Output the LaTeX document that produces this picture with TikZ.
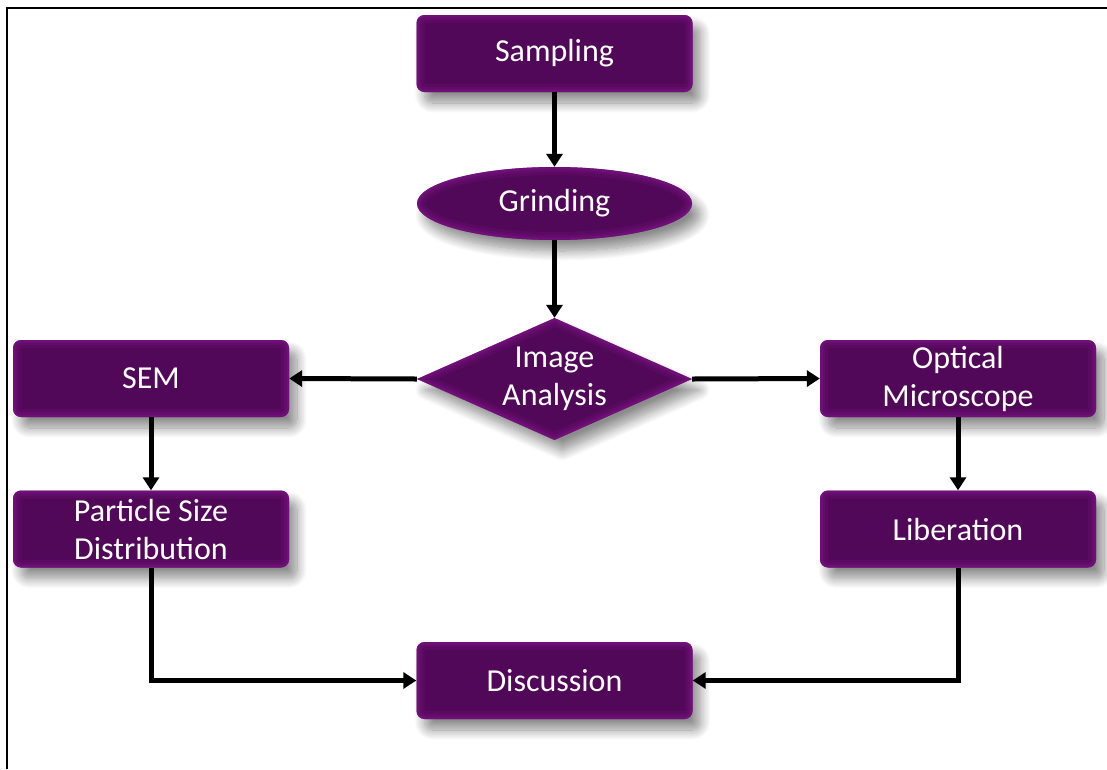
\documentclass[tikz,border=0pt]{standalone}
\usepackage{fontspec}
\setmainfont{Carlito}
\usetikzlibrary{shapes.geometric,arrows.meta,shadows.blur}
\definecolor{plumdark}{RGB}{82,8,88}
\definecolor{plumlight}{RGB}{128,20,138}
\tikzset{
  base/.style={fill=plumdark, text=white, align=center,
    font=\fontsize{32}{38}\selectfont, inner sep=0pt,
    blur shadow={shadow xshift=8pt, shadow yshift=-11pt,
      shadow blur radius=10pt, shadow blur steps=12, shadow opacity=45}},
  % soft lighter rim painted inside the outline
  rimrect/.style={path picture={
    \foreach \w/\o in {16/0.18,10/0.28,5/0.4}{
      \draw[plumlight, line width=\w pt, opacity=\o, rounded corners=8pt]
        (path picture bounding box.south west) rectangle
        (path picture bounding box.north east);}}},
  rimoval/.style={path picture={
    \foreach \w/\o in {16/0.18,10/0.28,5/0.4}{
      \draw[plumlight, line width=\w pt, opacity=\o]
        (path picture bounding box.center) ellipse [x radius=137.5pt, y radius=36.5pt];}}},
  rimdiamond/.style={path picture={
    \foreach \w/\o in {16/0.18,10/0.28,5/0.4}{
      \draw[plumlight, line width=\w pt, opacity=\o]
        (path picture bounding box.north) -- (path picture bounding box.east)
        -- (path picture bounding box.south) -- (path picture bounding box.west) -- cycle;}}},
  stepbox/.style={base, rectangle, rounded corners=8pt, rimrect,
    minimum width=276pt, minimum height=77pt},
  oval/.style={base, ellipse, rimoval, minimum width=275pt, minimum height=73pt},
  decision/.style={base, diamond, aspect=2.25, rimdiamond,
    minimum width=275pt, minimum height=122pt},
  label text/.style={text=white, align=center,
    font=\fontsize{32}{38}\selectfont, inner sep=0pt},
  flow/.style={line width=5pt, -{Triangle[width=16pt,length=13pt]}}
}
\begin{document}
\begin{tikzpicture}[x=1pt,y=-1pt]
\useasboundingbox (0,0) rectangle (1107,769);
% frame
\draw[line width=2pt] (6.5,769) -- (6.5,7.5) -- (1107,7.5);

% nodes
\node[stepbox] (samp) at (554.5,53.5) {Sampling};
\node[oval] (grind) at (554.5,203.5) {Grinding};
\node[decision] (img) at (554.5,379) {};
\node[label text] (imgtext) at (img.center) {Image\\Analysis};
\node[stepbox] (sem) at (151,378.5) {SEM};
\node[stepbox] (opt) at (958,378.5) {Optical\\Microscope};
\node[stepbox] (psd) at (151,529) {Particle Size\\Distribution};
\node[stepbox] (lib) at (958,529) {Liberation};
\node[stepbox] (disc) at (554.5,680.5) {Discussion};

% connectors
\draw[flow] (samp) -- (grind);
\draw[flow] (grind) -- (img.north);
\draw[flow] (img.west) -- (sem.east);
\draw[flow] (img.east) -- (opt.west);
\draw[flow] (sem) -- (psd);
\draw[flow] (opt) -- (lib);
\draw[flow] (psd.south) |- (disc.west);
\draw[flow] (lib.south) |- (disc.east);
\end{tikzpicture}
\end{document}
